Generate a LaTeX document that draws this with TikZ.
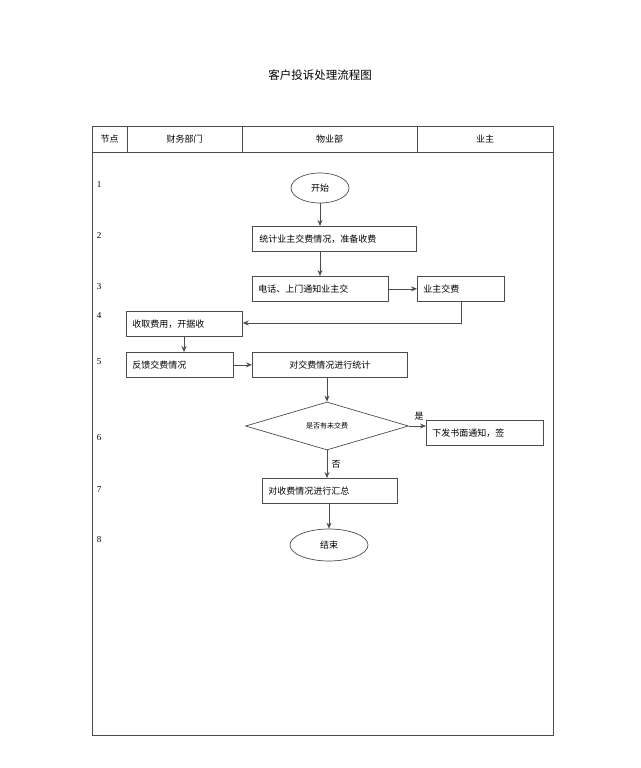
\documentclass[tikz,border=0pt]{standalone}
\usepackage{fontspec}
\setmainfont{Liberation Serif}
\newfontfamily\cjk{Noto Sans CJK SC}
\usetikzlibrary{shapes.geometric,arrows.meta}

\begin{document}
\begin{tikzpicture}[x=1pt, y=-1pt, >={Stealth[length=6pt,width=5pt]},
  font=\cjk\fontsize{9}{10}\selectfont,
  line/.style={draw=black!70, line width=0.7pt},
  flowbox/.style={line, rectangle, minimum height=25pt, inner sep=0pt, anchor=north west, text depth=0pt},
  term/.style={line, ellipse, inner sep=0pt},
  link/.style={line, ->}]
        \useasboundingbox (0,0) rectangle (640,768);
        % Title
        \node (title) at (320,75) {\fontsize{11.5}{13}\selectfont 客户投诉处理流程图};

        % Table frame and header
        \draw[line] (92,126) rectangle (553,735);
        \draw[line] (92,152) -- (553,152);
        \foreach \x in {127,242,417} \draw[line] (\x,126) -- (\x,152);
        \node (hnode) at (109.5,139) {节点};
        \node (hfin) at (184.5,139) {财务部门};
        \node (hprop) at (329.5,139) {物业部};
        \node (howner) at (485,139) {业主};

        % Node numbers
        \foreach \n/\y in {1/185,2/236,3/287,4/316,5/362,6/438,7/490,8/540}
          \node[font=\fontsize{9}{10}\selectfont] (num\n) at (99,\y) {\n};

        % Steps
        \node[term, minimum width=58pt, minimum height=30pt] (start) at (320,188) {开始};
        \node[flowbox, minimum width=164pt, text width=150pt] (count) at (252,226) {统计业主交费情况，准备收费};
        \node[flowbox, minimum width=136pt, text width=124pt] (notify) at (252,276) {电话、上门通知业主交};
        \node[flowbox, minimum width=87pt, text width=75pt] (pay) at (417,276) {业主交费};
        \node[flowbox, minimum width=116pt, text width=104pt] (collect) at (126,311) {收取费用，开据收};
        \node[flowbox, minimum width=107pt, text width=95pt] (feedback) at (126,352) {反馈交费情况};
        \node[flowbox, minimum width=155pt, align=center] (stat) at (252,352) {对交费情况进行统计};
        \node[line, diamond, aspect=3.4, minimum width=163pt, minimum height=48pt, inner sep=0pt,
              font=\cjk\fontsize{7}{8}\selectfont] (check) at (327,426) {是否有未交费};
        \node[flowbox, minimum width=117pt, text width=105pt] (letter) at (426,420) {下发书面通知，签};
        \node[flowbox, minimum width=135pt, text width=123pt] (sum) at (262,478) {对收费情况进行汇总};
        \node[term, minimum width=78pt, minimum height=32pt] (finish) at (329,545) {结束};

        % Connectors
        \draw[link] (start) -- (count.north -| start);
        \draw[link] (count.south -| start) -- (notify.north -| start);
        \draw[link] (notify) -- (pay);
        \draw[link] (pay.south) |- (collect.east |- 0,323);
        \draw[link] (collect.south -| 184,0) -- (feedback.north -| 184,0);
        \draw[link] (feedback) -- (stat.west |- feedback);
        \draw[link] (stat.south -| check) -- (check.north);
        \draw[link] (check.east) -- (letter.west |- check) node[pos=0.6, above=2pt] {是};
        \draw[link] (check.south) -- (sum.north -| check) node[midway, right=1pt] {否};
        \draw[link] (sum.south -| finish) -- (finish.north);
    \end{tikzpicture}
\end{document}
